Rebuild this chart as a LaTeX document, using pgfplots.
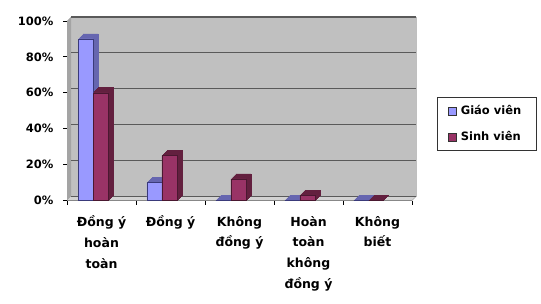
\documentclass[border=0pt]{standalone}
\usepackage{fontspec}
\setmainfont{DejaVu Sans}
\usepackage{pgfplots}
\pgfplotsset{compat=1.18}
\definecolor{gvf}{HTML}{9999FF}
\definecolor{gvs}{HTML}{6666B0}
\definecolor{gvb}{HTML}{3A3A7A}
\definecolor{svf}{HTML}{993366}
\definecolor{svs}{HTML}{63203F}
\definecolor{svb}{HTML}{4A1830}
\definecolor{wallc}{HTML}{C0C0C0}
\definecolor{lwallc}{HTML}{A4A4A4}
\definecolor{floorc}{HTML}{D2D2D2}
\definecolor{gridc}{HTML}{5A5A5A}
\begin{document}
\begin{tikzpicture}
\begin{axis}[
  set layers,
  at={(67pt,102.5pt)}, anchor=south west,
  scale only axis, width=345pt, height=179.5pt,
  xmin=0, xmax=5, ymin=0, ymax=100,
  axis lines*=left,
  axis line style={black, line width=0.8pt},
  tick align=outside,
  major tick length=4pt, minor tick length=4pt,
  tick style={black, line width=0.8pt},
  ytick={0,20,40,60,80,100},
  yticklabels={0\%,20\%,40\%,60\%,80\%,100\%},
  xtick={0.5,1.5,2.5,3.5,4.5},
  xticklabels={{Đồng ý\\hoàn\\toàn},{Đồng ý},{Không\\đồng ý},{Hoàn\\toàn\\không\\đồng ý},{Không\\biết}},
  minor xtick={0,1,2,3,4,5},
  major x tick style={draw=none},
  y tick label style={font=\fontsize{11.5}{14}\selectfont\bfseries, xshift=-6pt},
  x tick label style={font=\fontsize{12.5}{20.7}\selectfont\bfseries, align=center, yshift=-8pt},
  clip=false,
  legend style={at={(1.0725,0.5766)}, anchor=north west, draw=black!80, line width=0.6pt,
    font=\fontsize{11.5}{13}\selectfont\bfseries, inner xsep=11pt, inner ysep=6.5pt, row sep=11pt,
    nodes={inner xsep=4pt}},
  legend cell align=left,
]
% walls
\fill[on layer=axis background, wallc] ([shift={(4pt,4pt)}]axis cs:0,0) rectangle ([shift={(4pt,4pt)}]axis cs:5,100);
\fill[on layer=axis background, lwallc] (axis cs:0,0) -- (axis cs:0,100) -- ([shift={(4pt,4pt)}]axis cs:0,100) -- ([shift={(4pt,4pt)}]axis cs:0,0) -- cycle;
\fill[on layer=axis background, floorc] (axis cs:0,0) -- (axis cs:5,0) -- ([shift={(4pt,4pt)}]axis cs:5,0) -- ([shift={(4pt,4pt)}]axis cs:0,0) -- cycle;
\draw[on layer=axis background, gray!50, line width=0.6pt] ([shift={(4pt,4pt)}]axis cs:5,0) -- ([shift={(4pt,4pt)}]axis cs:5,100);
\draw[on layer=axis background, gray!70, line width=0.5pt] (axis cs:5,0) -- ([shift={(4pt,4pt)}]axis cs:5,0);
\pgfplotsinvokeforeach{0,20,40,60,80,100}{
  \draw[on layer=axis background, gridc, line width=1.2pt] ([shift={(4pt,4pt)}]axis cs:0,#1) -- ([shift={(4pt,4pt)}]axis cs:5,#1);
}
% Giao vien (depth faces, then front)
\pgfplotsinvokeforeach{1,2,3,4,5}{
\addplot[ybar, bar width=15pt, bar shift=-16pt, fill=gvs, draw=gvs, line width=0.8pt, xshift=#1pt, yshift=#1pt, forget plot]
  coordinates {(0.5,90) (1.5,10) (2.5,0) (3.5,0) (4.5,0)};
}
\addplot[ybar, bar width=15pt, bar shift=-16pt, fill=gvf, draw=gvb, line width=0.4pt,
  legend image code/.code={\draw[fill=gvf, draw=black!80, line width=0.5pt] (0pt,-4pt) rectangle (8pt,4pt);}]
  coordinates {(0.5,90) (1.5,10) (2.5,0) (3.5,0) (4.5,0)};
\addlegendentry{Giáo viên}
% Sinh vien
\pgfplotsinvokeforeach{1,2,3,4,5}{
\addplot[ybar, bar width=15pt, bar shift=-1pt, fill=svs, draw=svs, line width=0.8pt, xshift=#1pt, yshift=#1pt, forget plot]
  coordinates {(0.5,60) (1.5,25) (2.5,12) (3.5,3) (4.5,0)};
}
\addplot[ybar, bar width=15pt, bar shift=-1pt, fill=svf, draw=svb, line width=0.4pt,
  legend image code/.code={\draw[fill=svf, draw=black!80, line width=0.5pt] (0pt,-4pt) rectangle (8pt,4pt);}]
  coordinates {(0.5,60) (1.5,25) (2.5,12) (3.5,3) (4.5,0)};
\addlegendentry{Sinh viên}
\end{axis}
\pgfresetboundingbox
\useasboundingbox (0,0) rectangle (541pt,303pt);
\end{tikzpicture}
\end{document}
